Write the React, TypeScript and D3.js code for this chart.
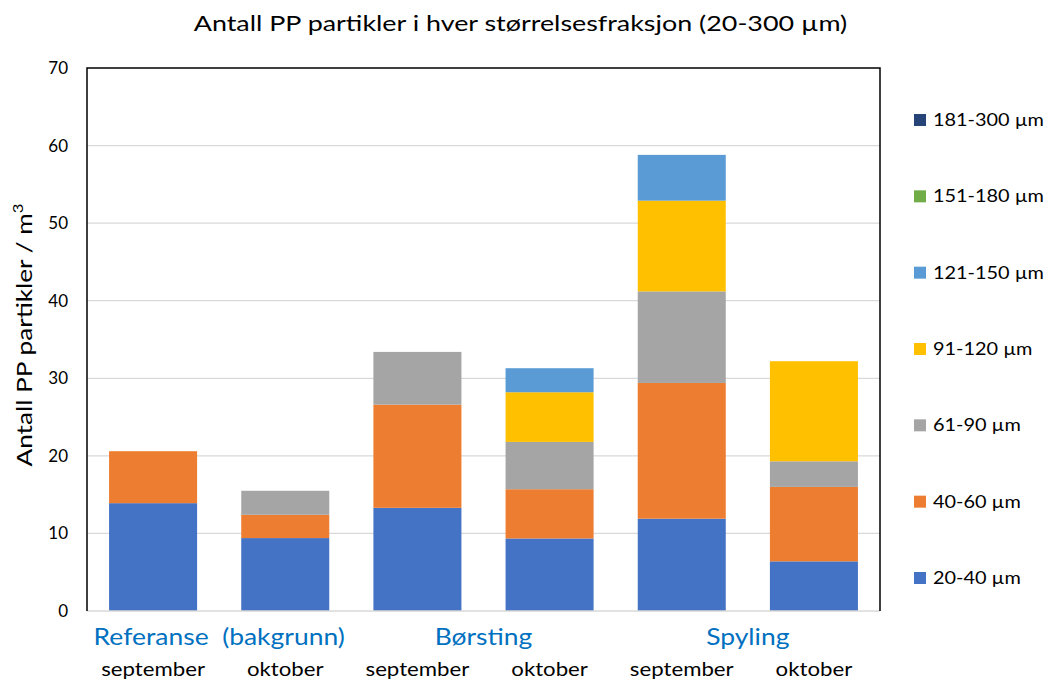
import React from "react";
import * as d3 from "d3";

const groups = ["Referanse  (bakgrunn)", "Børsting", "Spyling"];
const months = ["september", "oktober"];
const categories = ["Ref-sep", "Ref-okt", "Bor-sep", "Bor-okt", "Spy-sep", "Spy-okt"];
const seriesNames = ["20-40 µm", "40-60 µm", "61-90 µm", "91-120 µm", "121-150 µm", "151-180 µm", "181-300 µm"];
const seriesColors = ["#4472C4", "#ED7D31", "#A5A5A5", "#FFC000", "#5B9BD5", "#70AD47", "#264478"];
const s20_40 = [13.9, 9.4, 13.3, 9.35, 11.9, 6.4];
const s40_60 = [6.7, 3.0, 13.3, 6.35, 17.5, 9.6];
const s61_90 = [0, 3.1, 6.8, 6.1, 11.8, 3.3];
const s91_120 = [0, 0, 0, 6.4, 11.7, 12.9];
const s121_150 = [0, 0, 0, 3.1, 5.9, 0];
const s151_180 = [0, 0, 0, 0, 0, 0];
const s181_300 = [0, 0, 0, 0, 0, 0];
const yTicks = [0, 10, 20, 30, 40, 50, 60, 70];

const FONT = "Lato, 'Open Sans', sans-serif";

export default function App() {
  const W = 1046, H = 679;
  const left = 87, right = 880, top = 68, bottom = 611;
  const x = d3.scaleBand<string>().domain(categories).range([left, right]).paddingInner(0.334).paddingOuter(0.167);
  const y = d3.scaleLinear().domain([0, 70]).range([bottom, top]);
  const seriesValues = [s20_40, s40_60, s61_90, s91_120, s121_150, s151_180, s181_300];
  const rows = categories.map((c, i) => {
    const r: any = { cat: c };
    seriesNames.forEach((s, j) => (r[s] = seriesValues[j][i]));
    return r;
  });
  const stacked = d3.stack<any>().keys(seriesNames)(rows);
  const legendY = d3.scalePoint<string>().domain([...seriesNames].reverse()).range([120, 578]);

  return (
    <svg width={W} height={H} style={{ position: "absolute", left: 0, top: 0, background: "#fff" }} fontFamily={FONT}>
      <text transform="translate(520.5,31) scale(1.28,1)" textAnchor="middle" fontSize={21} fill="#000">
        Antall PP partikler i hver størrelsesfraksjon (20-300 µm)
      </text>
      {/* gridlines */}
      {yTicks.filter((t) => t > 0 && t < 70).map((t) => (
        <line key={t} x1={left} x2={right} y1={y(t)} y2={y(t)} stroke="#D9D9D9" strokeWidth={1.3} />
      ))}
      {/* bars */}
      {stacked.map((layer, j) => (
        <g key={j} fill={seriesColors[j]}>
          {layer.map((d, i) =>
            d[1] - d[0] > 0 ? (
              <rect key={i} x={x(categories[i])} width={x.bandwidth()} y={y(d[1])} height={y(d[0]) - y(d[1])} />
            ) : null
          )}
        </g>
      ))}
      {/* frame */}
      <line x1={left} x2={right} y1={bottom} y2={bottom} stroke="#D9D9D9" strokeWidth={1.5} />
      <path d={`M${left},${bottom} V${top} H${right} V${bottom}`} fill="none" stroke="#000" strokeWidth={1.5} />
      {/* y ticks */}
      {yTicks.map((t) => (
        <text key={t} x={68} y={y(t) + 6} textAnchor="end" fontSize={17} fill="#000">
          {t}
        </text>
      ))}
      <text transform={`translate(32,335) rotate(-90) scale(1.19,1)`} textAnchor="middle" fontSize={22} fill="#000">
        Antall PP partikler / m<tspan dy={-9} fontSize={14}>3</tspan>
      </text>
      {/* x labels */}
      {categories.map((c, i) => (
        <text
          key={c}
          transform={`translate(${(x(c) as number) + x.bandwidth() / 2},676) scale(1.17,1)`}
          textAnchor="middle"
          fontSize={19}
          fill="#000"
        >
          {months[i % 2]}
        </text>
      ))}
      {groups.map((g, k) => {
        const cx = ((x(categories[2 * k]) as number) + (x(categories[2 * k + 1]) as number) + x.bandwidth()) / 2;
        return (
          <text
            key={g}
            transform={`translate(${cx},645) scale(1.15,1)`}
            textAnchor="middle"
            fontSize={23}
            fill="#0070C0"
            style={{ whiteSpace: "pre" }}
          >
            {g}
          </text>
        );
      })}
      {/* legend */}
      {seriesNames.map((s, j) => (
        <g key={s} transform={`translate(914,${legendY(s)})`}>
          <rect x={0} y={-6} width={12} height={12} fill={seriesColors[j]} />
          <text transform="translate(19,6) scale(1.17,1)" fontSize={17} fill="#000">
            {s}
          </text>
        </g>
      ))}
    </svg>
  );
}
